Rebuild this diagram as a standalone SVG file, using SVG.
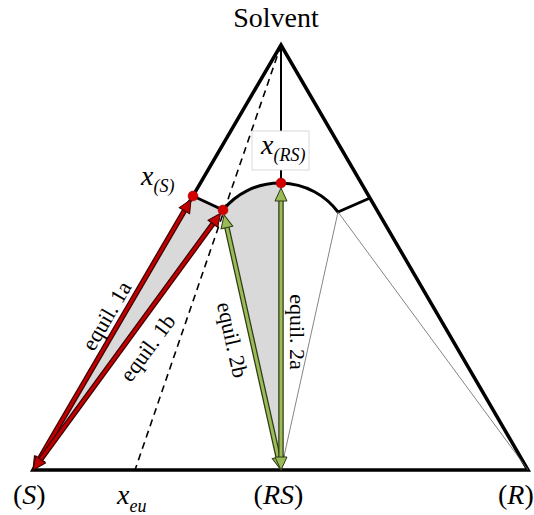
<svg xmlns="http://www.w3.org/2000/svg" width="534" height="515" viewBox="0 0 534 515">
<style>
text{font-family:"Liberation Serif","Times New Roman",serif;fill:#000}
.it{font-style:italic}
.lbl{font-size:22px}
.fill{fill:#d9d9d9;stroke:none}
.edge{fill:none;stroke:#000;stroke-width:3.5;stroke-linejoin:miter}
.curve{fill:none;stroke:#000;stroke-width:3;stroke-linejoin:miter}
.thin{fill:none;stroke:#666;stroke-width:0.8}
.dash{fill:none;stroke:#000;stroke-width:1.6;stroke-dasharray:7 5}
.redo{stroke:#3a0000;stroke-width:5.5;fill:none}
.redi{stroke:#c00000;stroke-width:3;fill:none;marker-start:url(#hr);marker-end:url(#hr)}
.grno{stroke:#2e3a14;stroke-width:5.5;fill:none}
.grni{stroke:#9bbb59;stroke-width:3;fill:none;marker-start:url(#hg);marker-end:url(#hg)}
.dot{fill:#d40000;stroke:#a00000;stroke-width:0.5}
</style>
<defs>
<marker id="hr" markerUnits="userSpaceOnUse" markerWidth="30" markerHeight="30" refX="0" refY="0" viewBox="-10 -15 30 30" orient="auto-start-reverse" overflow="visible">
<path d="M-3,-6 L10,0 L-3,6 Z" fill="#c00000" stroke="#3a0000" stroke-width="1"/>
</marker>
<marker id="hg" markerUnits="userSpaceOnUse" markerWidth="30" markerHeight="30" refX="0" refY="0" viewBox="-10 -15 30 30" orient="auto-start-reverse" overflow="visible">
<path d="M-3,-6 L10,0 L-3,6 Z" fill="#9bbb59" stroke="#2e3a14" stroke-width="1"/>
</marker>
</defs>
<rect width="534" height="515" fill="#fff"/>
<g id="regions">
<polygon class="fill" points="33,470 193,196 223,210"/>
<path class="fill" d="M223,210 A73,73 0 0 1 281,183 L281,470 Z"/>
</g>
<g id="diagram">
<polygon id="triangle" class="edge" points="33,470 281,45 528,470"/>
<path id="solubility-curve" class="curve" d="M193,196 L223,210 A73,73 0 0 1 338,212 L370,198"/>
<line class="thin" x1="338" y1="212" x2="281" y2="470"/>
<line class="thin" x1="338" y1="212" x2="528" y2="470"/>
<line class="dash" x1="281" y1="45" x2="135" y2="470"/>
<line stroke="#000" stroke-width="2" x1="281" y1="45" x2="281" y2="131"/>
<line stroke="#000" stroke-width="2" x1="281" y1="170" x2="281" y2="183"/>
</g>
<g id="connectors">
<g id="equil-1a">
<line class="redo" x1="38.04" y1="461.36" x2="185.96" y2="208.1"/>
<line class="redi" x1="38.04" y1="461.36" x2="185.96" y2="208.1"/>
</g>
<g id="equil-1b">
<line class="redo" x1="38.9" y1="461.9" x2="214.7" y2="221.3"/>
<line class="redi" x1="38.9" y1="461.9" x2="214.7" y2="221.3"/>
</g>
<g id="equil-2b">
<line class="grno" x1="226.3" y1="224.6" x2="278.8" y2="460.2"/>
<line class="grni" x1="226.3" y1="224.6" x2="278.8" y2="460.2"/>
</g>
<g id="equil-2a">
<line class="grno" x1="281" y1="198" x2="281" y2="460"/>
<line class="grni" x1="281" y1="198" x2="281" y2="460"/>
</g>
</g>
<g id="points">
<circle id="pt-xS" class="dot" cx="193" cy="196" r="5"/>
<circle id="pt-eu" class="dot" cx="223" cy="210" r="5"/>
<circle id="pt-xRS" class="dot" cx="281" cy="183" r="5"/>
</g>
<g id="labels">
<text x="276" y="27" font-size="28" text-anchor="middle">Solvent</text>
<g id="label-xRS">
<rect x="252" y="131" width="57" height="39" fill="#fff" stroke="#d0d0d0" stroke-width="0.8"/>
<text class="it" x="261" y="154" font-size="28">x<tspan font-size="18" dy="7">(RS)</tspan></text>
</g>
<text class="it" x="141" y="185" font-size="28">x<tspan font-size="18" dy="7">(S)</tspan></text>
<text class="lbl" transform="translate(107,316) rotate(-59.6)" x="0" y="7" text-anchor="middle">equil. 1a</text>
<text class="lbl" transform="translate(148,348) rotate(-53.7)" x="0" y="7" text-anchor="middle">equil. 1b</text>
<text class="lbl" transform="translate(232,340) rotate(77.4)" x="0" y="7" text-anchor="middle">equil. 2b</text>
<text class="lbl" transform="translate(297,332) rotate(90)" x="0" y="7" text-anchor="middle">equil. 2a</text>
<text x="13" y="504" font-size="28">(<tspan class="it">S</tspan>)</text>
<text class="it" x="117" y="504" font-size="28">x<tspan font-size="18" dy="8">eu</tspan></text>
<text x="278.5" y="504" font-size="28" text-anchor="middle">(<tspan class="it">RS</tspan>)</text>
<text x="498" y="504" font-size="28">(<tspan class="it">R</tspan>)</text>
</g>
</svg>
